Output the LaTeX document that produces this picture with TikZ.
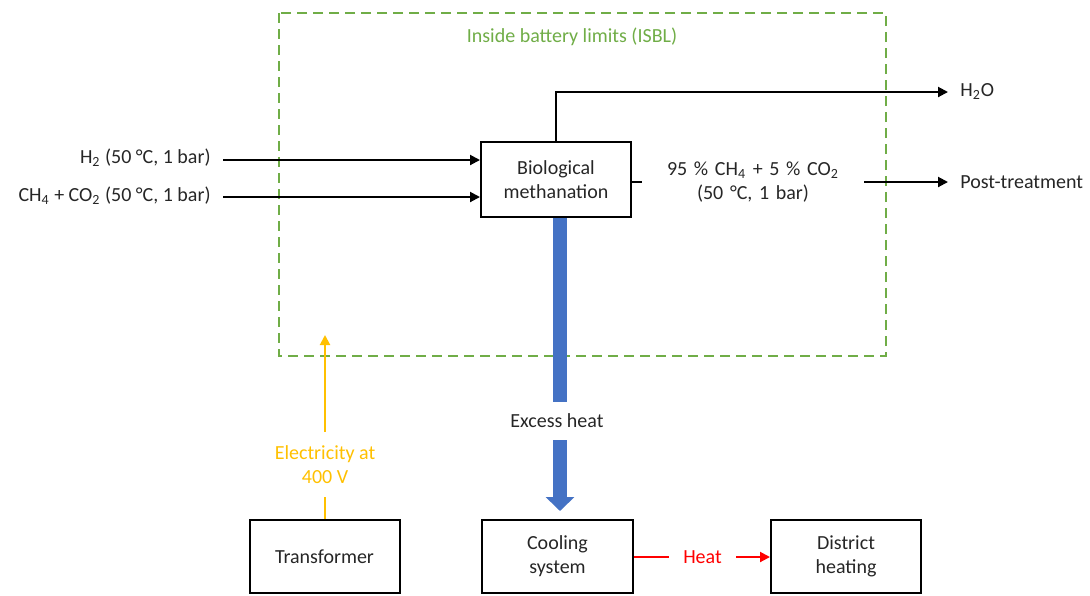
\documentclass[tikz,border=0pt]{standalone}
\usepackage{fontspec}
\setmainfont{Carlito}
\usetikzlibrary{arrows.meta}
\definecolor{isbl}{RGB}{112,173,71}
\definecolor{elec}{RGB}{255,192,0}
\definecolor{heatblue}{RGB}{68,114,196}
\definecolor{txt}{RGB}{38,38,38}
\begin{document}
\begin{tikzpicture}[x=0.5pt,y=-0.5pt,
  every node/.style={font=\fontsize{10}{12}\selectfont, inner sep=0pt, text=txt},
  box/.style={draw=black, line width=1pt, minimum width=75pt, minimum height=37.5pt, align=center},
  tip/.style={-{Triangle[length=5pt,width=5pt]}},
  flow/.style={line width=1pt, tip},
  heatflow/.style={heatblue, line width=7pt},
]
\useasboundingbox (0,0) rectangle (1090,595);

% ISBL boundary
\draw[isbl, line width=1pt, dash pattern=on 5pt off 3pt] (279,13) rectangle (886,356);
\node[text=isbl] (isbl) at (572,37) {Inside battery limits (ISBL)};

% boxes
\node[box] (bio) at (556,179.5) {Biological\\methanation};
\node[box, minimum height=36.5pt] (trans) at (324.5,556.5) {Transformer};
\node[box, minimum height=36.5pt, minimum width=75.5pt] (cool) at (557.5,556.5) {Cooling\\system};
\node[box, minimum height=36.5pt] (dist) at (846,556.5) {District\\heating};

% inputs
\node[anchor=east] (h2l) at (211,158) {H\textsubscript{2} (50 °C, 1 bar)};
\node[anchor=east] (ch4l) at (211,196) {CH\textsubscript{4} + CO\textsubscript{2} (50 °C, 1 bar)};
\coordinate (h2s) at (223,160);
\coordinate (ch4s) at (223,197);
\draw[flow] (h2s) -- (bio.west |- h2s);
\draw[flow] (ch4s) -- (bio.west |- ch4s);

% water
\node[anchor=west, inner xsep=6pt] (h2o) at (948,92) {H\textsubscript{2}O};
\draw[flow] (bio.north) |- (h2o.west);

% product gas
\node[align=center, inner xsep=10.5pt, text width=90pt] (prod) at (753,182) {95 \% CH\textsubscript{4} + 5 \% CO\textsubscript{2}\\(50 °C, 1 bar)};
\node[anchor=west, inner xsep=6pt] (post) at (948,182) {Post-treatment};
\draw[line width=1pt] (bio.east |- prod.west) -- (prod.west);
\draw[flow] (prod.east) -- (post.west);

% excess heat
\node[minimum height=19pt] (excess) at (557,421) {Excess heat};
\coordinate (bs) at ([xshift=2pt]bio.south);
\draw[heatflow] (bs) -- (bs |- excess.north);
\draw[heatflow, -{Triangle[length=7pt,width=14pt]}] (bs |- excess.south) -- ([yshift=4pt]bs |- cool.north);

% electricity
\node[text=elec, align=center, minimum height=32.5pt] (elecl) at (325,464.5) {Electricity at\\400 V};
\coordinate (etop) at (325,335);
\draw[elec, line width=1pt] (trans.north -| elecl) -- (elecl.south);
\draw[elec, flow] (elecl.north) -- (etop);

% heat to district heating
\node[text=red, inner xsep=7pt] (heat) at (702.5,557) {Heat};
\draw[red, line width=1pt] (cool.east |- heat) -- (heat.west);
\draw[red, flow] (heat.east) -- (dist.west |- heat);
\end{tikzpicture}
\end{document}
